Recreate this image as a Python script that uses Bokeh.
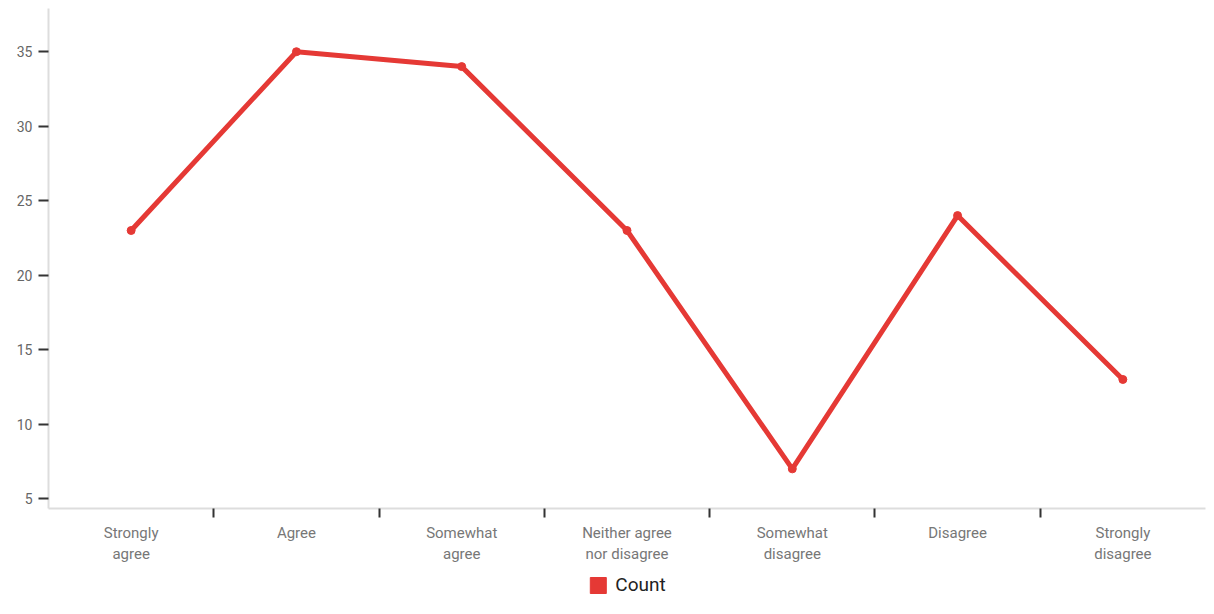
from bokeh.plotting import figure
from bokeh.layouts import column
from bokeh.models import FixedTicker, Range1d, Legend, LegendItem, ColumnDataSource
from bokeh.embed import file_html
from bokeh.resources import INLINE

categories = ["Strongly\nagree", "Agree", "Somewhat\nagree", "Neither agree\nnor disagree",
              "Somewhat\ndisagree", "Disagree", "Strongly\ndisagree"]
counts = [23, 35, 34, 23, 7, 24, 13]
y_ticks = [5, 10, 15, 20, 25, 30, 35]
series_name = "Count"

xs = [i + 0.5 for i in range(len(categories))]
src = ColumnDataSource(dict(x=xs, y=counts))

RED = "#e53935"
p = figure(width=1206, height=566, output_backend="svg", toolbar_location=None,
           x_range=Range1d(0, len(categories)), y_range=Range1d(4.34, 37.9),
           min_border_left=48, min_border_top=8, min_border_right=1, min_border_bottom=58)
p.outline_line_color = None
p.xgrid.visible = False
p.ygrid.visible = False

r = p.line("x", "y", source=src, line_color=RED, line_width=5)
c = p.scatter("x", "y", source=src, size=8, fill_color=RED, line_color=RED)

p.xaxis.ticker = FixedTicker(ticks=xs, minor_ticks=list(range(1, len(categories))))
p.xaxis.major_label_overrides = {x: lab for x, lab in zip(xs, categories)}
p.xaxis.major_tick_out = 0
p.xaxis.major_tick_in = 0
p.xaxis.minor_tick_out = 9
p.xaxis.minor_tick_in = 0
p.xaxis.minor_tick_line_color = "#333333"
p.xaxis.minor_tick_line_width = 2
p.xaxis.axis_line_color = "#dddddd"
p.xaxis.axis_line_width = 2
p.xaxis.major_label_text_font = "Roboto"
p.xaxis.major_label_text_font_size = "15px"
p.xaxis.major_label_text_color = "#777777"
p.xaxis.major_label_standoff = 6

p.yaxis.ticker = FixedTicker(ticks=y_ticks, minor_ticks=[])
p.yaxis.major_tick_out = 10
p.yaxis.major_tick_in = 0
p.yaxis.major_tick_line_color = "#333333"
p.yaxis.major_tick_line_width = 2
p.yaxis.axis_line_color = "#dddddd"
p.yaxis.axis_line_width = 2
p.yaxis.major_label_text_font = "Roboto"
p.yaxis.major_label_text_font_size = "14px"
p.yaxis.major_label_text_color = "#666666"
p.yaxis.major_label_standoff = 6

# legend strip below the chart (proxy glyph lies outside this strip's visible range)
lg = figure(width=1206, height=32, output_backend="svg", toolbar_location=None,
            x_range=Range1d(0, 1), y_range=Range1d(0, 1),
            x_axis_location=None, y_axis_location=None,
            min_border_left=0, min_border_right=0, min_border_top=0, min_border_bottom=0)
lg.outline_line_color = None
lg.xgrid.visible = False
lg.ygrid.visible = False
proxy_src = ColumnDataSource(dict(l=xs[:1], r=xs[1:2], b=counts[:1], t=counts[1:2]))
dummy = lg.quad(left="l", right="r", bottom="b", top="t", source=proxy_src,
                fill_color=RED, line_color=RED)

legend = Legend(items=[LegendItem(label=series_name, renderers=[dummy])], orientation="horizontal",
                location="bottom", border_line_color=None, background_fill_alpha=0,
                label_text_font="Roboto", label_text_font_size="19px", label_text_color="#222222",
                glyph_width=20, glyph_height=20, padding=0, margin=2, label_standoff=8,
                label_height=20)
lg.add_layout(legend, "center")

layout = column(p, lg, spacing=0)
open("out.html", "w").write(file_html(layout, INLINE))
